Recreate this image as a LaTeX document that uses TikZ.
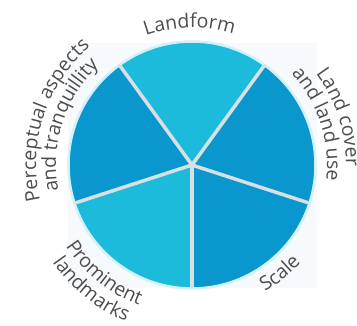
\documentclass[tikz,border=0pt]{standalone}
\usepackage{fontspec}
\setmainfont{Open Sans}
\usetikzlibrary{decorations.text}
\definecolor{sectlight}{HTML}{1DBBDB}
\definecolor{sectdark}{HTML}{0A97CE}
\definecolor{sepgrey}{HTML}{D8E0E4}
\definecolor{labelgrey}{HTML}{4D4D4D}
\definecolor{backpale}{HTML}{F6FAFC}
\newcommand{\labelfont}{\fontsize{19.5}{20}\selectfont}
\tikzset{
  curved label/.style={decorate,decoration={text along path,text align=center,
    text color=labelgrey,text={|\labelfont|#1}}},
  separator/.style={sepgrey,line width=3.5bp,line cap=round},
}
% clockwise label (tops outward) and counterclockwise label (tops inward)
\newcommand{\cwlabel}[3]{\path[curved label={#3}] (#1+60:#2) arc[start angle=#1+60,end angle=#1-60,radius=#2];}
\newcommand{\ccwlabel}[3]{\path[curved label={#3}] (#1-60:#2) arc[start angle=#1-60,end angle=#1+60,radius=#2];}
\begin{document}
\begin{tikzpicture}[x=1bp,y=1bp]
\useasboundingbox (-192,-161) rectangle (165,165);
\fill[backpale](-124,-123)rectangle(125,122); %pale square behind pie
\foreach \a/\c in {54/sectlight,126/sectdark,198/sectlight,270/sectdark,342/sectdark}
  \fill[\c](0,0)--(\a:123)arc[start angle=\a,end angle=\a+72,radius=123]--cycle; %sectors
\draw[white!80!sectlight,line width=2.5bp](0,0)circle(123.5); %soft rim
\foreach \a in {54,126,198,270,342}
  \draw[separator](0,0)--(\a:122); %white spokes
%labels
\cwlabel{91}{137}{Landform}
\cwlabel{18}{154}{Land cover}
\cwlabel{18}{135}{and land use}
\cwlabel{162}{156}{Perceptual aspects}
\cwlabel{162}{136}{and tranquillity}
\ccwlabel{-51}{146}{Scale}
\ccwlabel{231}{150}{Prominent}
\ccwlabel{231}{170}{landmarks}
\end{tikzpicture}
\end{document}
